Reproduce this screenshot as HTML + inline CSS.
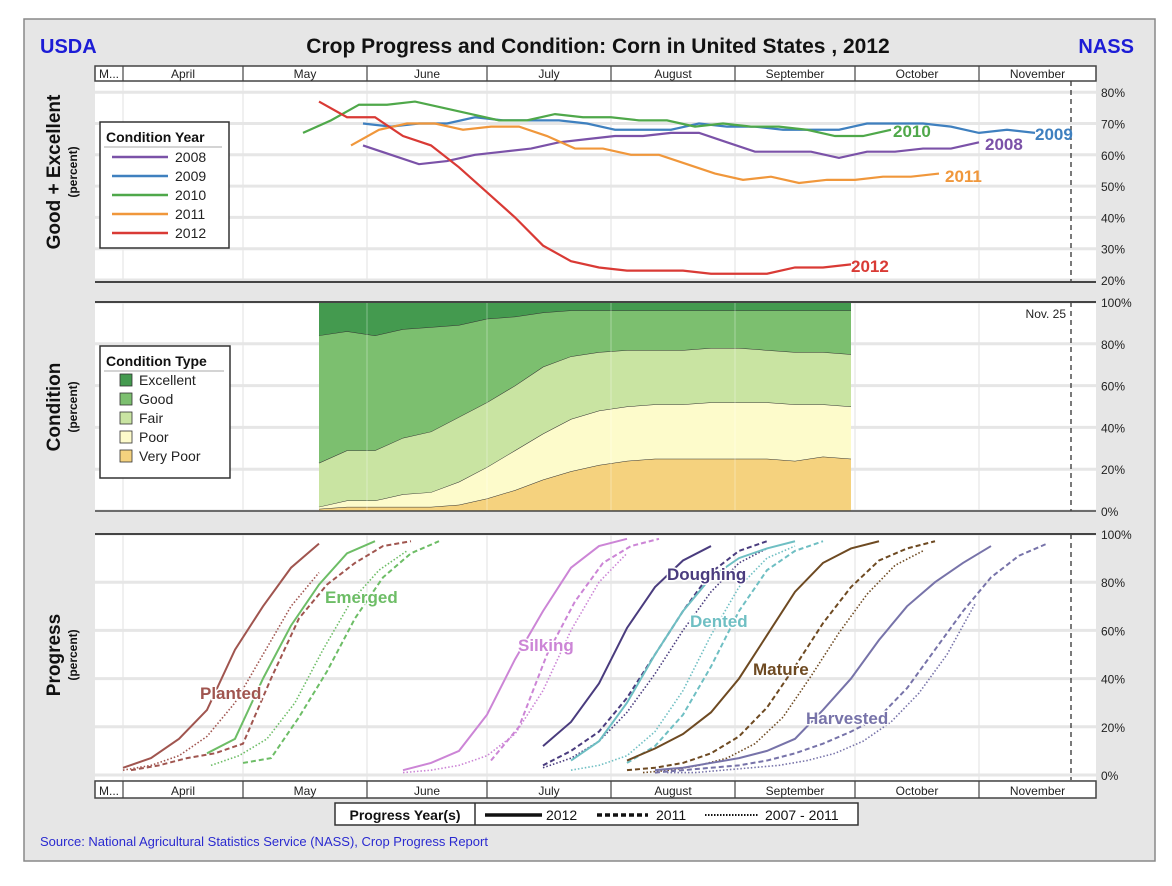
<!DOCTYPE html>
<html><head><meta charset="utf-8"><style>
html,body{margin:0;padding:0;background:#fff;}
svg{display:block;font-family:"Liberation Sans",sans-serif;}
</style></head><body>
<svg id="c" width="1172" height="886" viewBox="0 0 1172 886" xmlns="http://www.w3.org/2000/svg">
<rect x="24" y="19" width="1131" height="842" fill="#e6e6e6" stroke="#888" stroke-width="1.5"/>
<text x="40" y="53" font-size="20" font-weight="bold" fill="#1c1cd6">USDA</text>
<text x="1134" y="53" font-size="20" font-weight="bold" fill="#1c1cd6" text-anchor="end">NASS</text>
<text x="598" y="53" font-size="21" font-weight="bold" fill="#111" text-anchor="middle">Crop Progress and Condition: Corn in United States , 2012</text>
<g id="gtop"></g>
<g id="gmid"></g>
<g id="gbot"></g>
<g id="gaxes"></g>
<text transform="translate(60,172) rotate(-90)" font-size="19" font-weight="bold" text-anchor="middle" fill="#111">Good + Excellent</text>
<text transform="translate(77,172) rotate(-90)" font-size="12" font-weight="bold" text-anchor="middle" fill="#111">(percent)</text>
<text transform="translate(60,407) rotate(-90)" font-size="19" font-weight="bold" text-anchor="middle" fill="#111">Condition</text>
<text transform="translate(77,407) rotate(-90)" font-size="12" font-weight="bold" text-anchor="middle" fill="#111">(percent)</text>
<text transform="translate(60,655) rotate(-90)" font-size="19" font-weight="bold" text-anchor="middle" fill="#111">Progress</text>
<text transform="translate(77,655) rotate(-90)" font-size="12" font-weight="bold" text-anchor="middle" fill="#111">(percent)</text>
<g>
<rect x="335" y="803" width="523" height="22" fill="#fff" stroke="#333" stroke-width="1.5"/>
<line x1="475" y1="803" x2="475" y2="825" stroke="#333" stroke-width="1.5"/>
<text x="405" y="820" font-size="14" font-weight="bold" text-anchor="middle" fill="#111">Progress Year(s)</text>
<line x1="485" y1="815" x2="542" y2="815" stroke="#111" stroke-width="3.5"/>
<text x="546" y="820" font-size="14" fill="#111">2012</text>
<line x1="597" y1="815" x2="648" y2="815" stroke="#111" stroke-width="3.5" stroke-dasharray="5,3"/>
<text x="656" y="820" font-size="14" fill="#111">2011</text>
<line x1="705" y1="815" x2="758" y2="815" stroke="#111" stroke-width="2" stroke-dasharray="1.5,1.5"/>
<text x="765" y="820" font-size="14" fill="#111">2007 - 2011</text>
</g>
<text x="40" y="846" font-size="13" fill="#2a2ad0">Source: National Agricultural Statistics Service (NASS), Crop Progress Report</text>
</svg>
<script>
// ---- data: Good+Excellent by year (weekly, start day = days after Apr 1)
const geYears=["2008","2009","2010","2011","2012"];
const geStart=[60,60,45,57,49];
const ge2008=[63,60,57,58,60,61,62,64,65,66,66,67,67,64,61,61,61,59,61,61,62,62,64];
const ge2009=[70,69,70,70,72,71,71,71,70,68,68,68,70,69,69,68,68,68,70,70,70,69,67,68,67];
const ge2010=[67,71,76,76,77,75,73,71,71,73,72,72,71,71,69,70,69,69,68,66,66,68];
const ge2011=[63,68,70,70,68,69,69,66,62,62,60,60,57,54,52,53,51,52,52,53,53,54];
const ge2012=[77,72,72,66,63,56,48,40,31,26,24,23,23,23,22,22,22,24,24,25];
const geTicks=["20%","30%","40%","50%","60%","70%","80%"];
// ---- condition 2012 (percent per category, weekly from May 20)
const condStart=49;
const condVeryPoor=[1,2,2,2,2,3,6,10,15,19,22,24,25,25,25,25,25,24,26,25];
const condPoor=[1,3,3,6,7,11,15,19,22,25,26,26,26,26,27,27,27,27,25,25];
const condFair=[21,24,24,27,29,31,31,31,32,30,28,27,26,26,26,26,25,25,25,25];
const condGood=[61,57,55,52,50,44,40,33,26,22,20,19,19,19,18,18,19,20,20,21];
const condExcellent=[16,14,16,13,12,11,8,7,5,4,4,4,4,4,4,4,4,4,4,4];
const condTicks=["0%","20%","40%","60%","80%","100%"];
// ---- progress (weekly values, start days)
const stages=["Planted","Emerged","Silking","Doughing","Dented","Mature","Harvested"];
const planted12=[3,7,15,27,52,70,86,96], planted11=[2,4,7,9,13,40,65,79,88,95,97], plantedAvg=[2,4,8,16,30,50,70,84];
const emerged12=[9,15,40,62,79,92,97], emerged11=[5,7,24,43,65,82,92,97], emergedAvg=[4,8,15,30,52,72,85,93];
const silking12=[2,5,10,25,48,68,86,95,98], silking11=[6,20,50,72,88,95,98], silkingAvg=[1,2,4,8,17,35,60,80,92];
const doughing12=[12,22,38,61,78,89,95], doughing11=[4,10,18,32,50,68,84,93,97], doughingAvg=[3,7,14,26,42,60,76,88,94];
const dented12=[6,14,30,50,68,82,90,94,97], dented11=[5,12,25,45,68,85,93,97], dentedAvg=[2,4,8,18,35,58,78,90,95];
const mature12=[6,11,17,26,40,58,76,88,94,97], mature11=[2,3,5,9,16,28,45,63,78,89,94,97], matureAvg=[1,2,4,7,13,24,41,59,75,87,93];
const harvested12=[2,3,5,7,10,15,27,40,56,70,80,88,95], harvested11=[1,2,3,4,6,9,13,18,24,36,52,68,82,91,96], harvestedAvg=[1,1,2,3,4,6,9,14,22,34,50,71];
const starts12=[0,21,70,105,112,126,133], starts11=[2,30,92,105,126,126,133], startsAvg=[0,22,70,105,112,130,136];
const progTicks=["0%","20%","40%","60%","80%","100%"];
const months=["M...","April","May","June","July","August","September","October","November"];
const monthStart=[-7,0,30,61,91,122,153,183,214];

const NS="http://www.w3.org/2000/svg";
function mk(p,tag,a){const e=document.createElementNS(NS,tag);for(const k in a)e.setAttribute(k,a[k]);p.appendChild(e);return e;}
const X=d=>123+4*d, L=95, R=1096;
const yT=v=>280-(v-20)*3.13, yM=v=>511-v*2.09, yB=v=>775-v*2.41;
const gTop=document.getElementById('gtop'),gMid=document.getElementById('gmid'),gBot=document.getElementById('gbot'),gAxes=document.getElementById('gaxes');

function panel(g,y1,y2,tickVals,tickLabs,yf){
  mk(g,'rect',{x:L,y:y1,width:R-L,height:y2-y1,fill:'#fff'});
  monthStart.slice(1).forEach(d=>mk(g,'line',{x1:X(d),y1:y1,x2:X(d),y2:y2,stroke:'#e2e2e2','stroke-width':1}));
  tickVals.forEach((v,i)=>{mk(g,'line',{x1:L,y1:yf(v),x2:R,y2:yf(v),stroke:'#e6e6e6','stroke-width':3});
    const t=mk(g,'text',{x:1101,y:yf(v)+5,'font-size':12,fill:'#222'});t.textContent=tickLabs[i];
    
    });
  mk(g,'line',{x1:X(237),y1:y1,x2:X(237),y2:y2,stroke:'#333','stroke-width':1.3,'stroke-dasharray':'5,4'});
}
// Top panel
panel(gTop,81,282,[20,30,40,50,60,70,80],geTicks,yT);
const geData=[ge2008,ge2009,ge2010,ge2011,ge2012], geCol=["#7b52a8","#3f80bf","#4fa84a","#f0973b","#d93a35"];
geData.forEach((arr,i)=>{
  const pts=arr.map((v,j)=>X(geStart[i]+7*j)+','+yT(v)).join(' ');
  const p=mk(gTop,'polyline',{points:pts,fill:'none',stroke:geCol[i],'stroke-width':2.2});
  
  
});
const geLab=[[985,150],[1035,140],[893,137],[945,182],[851,272]];
geYears.forEach((y,i)=>{const t=mk(gTop,'text',{x:geLab[i][0],y:geLab[i][1],'font-size':17,'font-weight':'bold',fill:geCol[i]});t.textContent=y;
  
  });
mk(gTop,'line',{x1:L,y1:282,x2:R,y2:282,stroke:'#444','stroke-width':2});
// top legend
const lg=mk(gTop,'g',{});


mk(lg,'rect',{x:100,y:122,width:129,height:126,fill:'#fff',stroke:'#333','stroke-width':1.5});
let tt=mk(lg,'text',{x:106,y:142,'font-size':14,'font-weight':'bold',fill:'#111'});tt.textContent='Condition Year';
mk(lg,'line',{x1:104,y1:147,x2:222,y2:147,stroke:'#aaa'});
geYears.forEach((y,i)=>{const yy=157+i*19;mk(lg,'line',{x1:112,y1:yy,x2:168,y2:yy,stroke:geCol[i],'stroke-width':2.5});
  const t=mk(lg,'text',{x:175,y:yy+5,'font-size':14,fill:'#222'});t.textContent=y;});

// Middle panel
panel(gMid,302,511,[0,20,40,60,80,100],condTicks,yM);
const cats=[condVeryPoor,condPoor,condFair,condGood,condExcellent];
const catNames=["Very Poor","Poor","Fair","Good","Excellent"];
const catCol=["#f5d27e","#fdfbcb","#c9e4a2","#7cbf6f","#449a4f"];
let cum=condVeryPoor.map(()=>0);
cats.forEach((arr,i)=>{
  const lo=cum.slice(); cum=cum.map((c,j)=>c+arr[j]);
  const upper=cum.map((v,j)=>X(condStart+7*j)+','+yM(Math.min(v,100)));
  const lower=lo.map((v,j)=>X(condStart+7*j)+','+yM(v)).reverse();
  const p=mk(gMid,'polygon',{points:upper.concat(lower).join(' '),fill:catCol[i]});
  
  
  mk(gMid,'polyline',{points:upper.join(' '),fill:'none',stroke:'#333','stroke-width':1});
});
monthStart.slice(3,7).forEach(d=>mk(gMid,'line',{x1:X(d),y1:302,x2:X(d),y2:511,stroke:'#ffffff','stroke-opacity':0.35,'stroke-width':1}));
tt=mk(gMid,'text',{x:1066,y:318,'font-size':12,'text-anchor':'end',fill:'#222'});tt.textContent='Nov. 25';
mk(gMid,'line',{x1:L,y1:302,x2:R,y2:302,stroke:'#444','stroke-width':2});
mk(gMid,'line',{x1:L,y1:511,x2:R,y2:511,stroke:'#444','stroke-width':1.5});
const lg2=mk(gMid,'g',{});


mk(lg2,'rect',{x:100,y:346,width:130,height:132,fill:'#fff',stroke:'#333','stroke-width':1.5});
tt=mk(lg2,'text',{x:106,y:366,'font-size':14,'font-weight':'bold',fill:'#111'});tt.textContent='Condition Type';
mk(lg2,'line',{x1:104,y1:371,x2:224,y2:371,stroke:'#aaa'});
[4,3,2,1,0].forEach((ci,i)=>{const yy=380+i*19;mk(lg2,'rect',{x:120,y:yy-6,width:12,height:12,fill:catCol[ci],stroke:'#333','stroke-width':0.8});
  const t=mk(lg2,'text',{x:139,y:yy+5,'font-size':14,fill:'#222'});t.textContent=catNames[ci];});

// Bottom panel
panel(gBot,534,780,[0,20,40,60,80,100],progTicks,yB);
const s12=[planted12,emerged12,silking12,doughing12,dented12,mature12,harvested12];
const s11=[planted11,emerged11,silking11,doughing11,dented11,mature11,harvested11];
const sAv=[plantedAvg,emergedAvg,silkingAvg,doughingAvg,dentedAvg,matureAvg,harvestedAvg];
const stCol=["#a0554f","#6dbd66","#cc85d6","#4a3c7e","#6fbfc3","#6e4a22","#7773a9"];
function pl(arr,st,col,dash,w,name){
  const p=mk(gBot,'polyline',{points:arr.map((v,j)=>X(st+7*j)+','+yB(v)).join(' '),fill:'none',stroke:col,'stroke-width':w});
  if(dash)p.setAttribute('stroke-dasharray',dash);
  
  
}
stages.forEach((s,i)=>{
  const n=s.toLowerCase();
  pl(sAv[i],startsAvg[i],stCol[i],'1.5,2',1.6,n+'-avg-line');
  pl(s11[i],starts11[i],stCol[i],'5,3',2,n+'-2011-line');
  pl(s12[i],starts12[i],stCol[i],null,2,n+'-2012-line');
});
const stLab=[[200,699],[325,603],[518,651],[667,580],[690,627],[753,675],[806,724]];
stages.forEach((s,i)=>{const t=mk(gBot,'text',{x:stLab[i][0],y:stLab[i][1],'font-size':17,'font-weight':'bold',fill:stCol[i],stroke:'#fff','stroke-width':3,'paint-order':'stroke'});t.textContent=s;
  
  });
mk(gBot,'line',{x1:L,y1:534,x2:R,y2:534,stroke:'#444','stroke-width':2});

// Month strips
function strip(y1,y2){
  mk(gAxes,'rect',{x:L,y:y1,width:R-L,height:y2-y1,fill:'#fff',stroke:'#444','stroke-width':1.5});
  months.forEach((m,i)=>{const a=Math.max(X(monthStart[i]),L),b=i<8?X(monthStart[i+1]):R;
    if(i>0)mk(gAxes,'line',{x1:a,y1:y1,x2:a,y2:y2,stroke:'#444','stroke-width':1.2});
    const t=mk(gAxes,'text',{x:(a+b)/2,y:y2-3,'font-size':12,'text-anchor':'middle',fill:'#222'});t.textContent=m;
    
    });
}
strip(66,81);strip(781,798);
</script>
</body></html>
